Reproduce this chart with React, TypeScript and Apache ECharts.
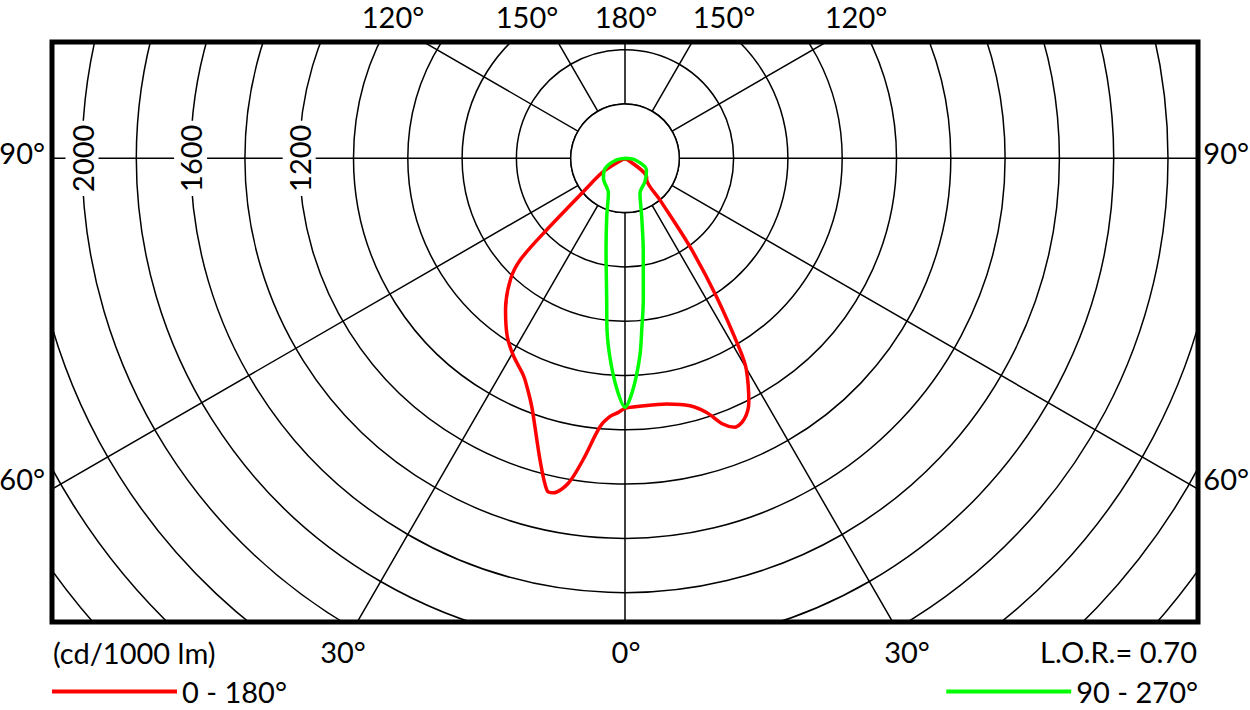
import React, { useEffect, useRef } from "react";
import * as echarts from "echarts";

// ---- axis definitions (cd / 1000 lm) ----
const ringMax = 2800;
const ringStep = 200;
const ringLabelValues = [1200, 1600, 2000];
const angleStep = 30;

// ---- luminous intensity curves: angle from nadir (deg) / value (cd/1000 lm) ----
// plane 0 - 180 : right half (C0) and left half (C180)
const redRightAngles = [0, 3.4, 9.6, 14.7, 17.8, 20.2, 22.2, 24.6, 26.9, 29.9, 31, 33.5, 36.3, 40, 45, 49.7, 180];
const redRightValues = [921, 915, 918, 942, 983, 1043, 1070, 1056, 1008, 896, 820, 609, 403, 200, 113, 104, 0];
const redLeftAngles = [0, 1.5, 3.3, 5.3, 7.9, 9.9, 12.1, 13.2, 15.6, 20.3, 22.4, 25, 29.4, 33.5, 38.3, 43.4, 45.9, 47.4, 51.3, 58.3, 180];
const redLeftValues = [921, 936, 952, 992, 1120, 1215, 1260, 1257, 1160, 985, 933, 884, 836, 786, 710, 614, 536, 407, 196, 94, 0];

// plane 90 - 270 : right half (C90) and left half (C270)
const greenRightAngles = [0, 2, 4.3, 5.6, 7.4, 11.3, 16, 23.2, 40.5, 61.7, 80, 180];
const greenRightValues = [917, 851, 730, 633, 524, 343, 223, 140, 113, 90, 40, 0];
const greenLeftAngles = [0, 2, 4.2, 6, 7.4, 11.7, 17.4, 25.5, 47.3, 63, 78, 180];
const greenLeftValues = [917, 851, 742, 634, 524, 344, 225, 142, 108, 82, 35, 0];

const seriesNames = ["0 - 180°", "90 - 270°"];
const topAngleLabels = ["120°", "150°", "180°", "150°", "120°"];
const sideAngleLabels = ["90°", "60°"];
const bottomAngleLabels = ["30°", "0°", "30°"];
const unitLabel = "(cd/1000 lm)";
const lorLabel = "L.O.R.= 0.70";

const FONT = "Lato";
const FS = 29;

function toAxisAngle(a: number): number {
  // axis: -90 = left, 0 = nadir, 90 = right, 180 = top, 270 = left
  return a < -90 ? a + 360 : a;
}

function buildCurve(lAng: number[], lVal: number[], rAng: number[], rVal: number[]) {
  const pts: number[][] = [];
  for (let i = lAng.length - 1; i >= 0; i--) pts.push([lVal[i], toAxisAngle(-lAng[i])]);
  for (let i = 0; i < rAng.length; i++) pts.push([rVal[i], toAxisAngle(rAng[i])]);
  return pts;
}

const CX = 625;
const CY = 158.3;
const PX_PER_STEP = 54.3;

function txt(text: string, x: number, y: number, align: string) {
  return {
    type: "text",
    x,
    y,
    z: 120,
    style: { text, fontSize: FS, fontFamily: FONT, fill: "#000", align, verticalAlign: "middle" },
  };
}

export default function App() {
  const ref = useRef<HTMLDivElement>(null);
  useEffect(() => {
    document.body.style.margin = "0";
    const chart = echarts.init(ref.current!, null, { renderer: "svg" });
    const steps = ringMax / ringStep;
    const outerR = PX_PER_STEP * steps;
    const innerR = (outerR * ringStep) / ringMax;
    const option: any = {
      animation: false,
      backgroundColor: "#fff",
      textStyle: { fontFamily: FONT },
      polar: {
        center: [CX, CY],
        radius: [0, outerR],
      },
      angleAxis: {
        type: "value",
        min: -90,
        max: 270,
        interval: angleStep,
        startAngle: 180,
        clockwise: false,
        z: 0,
        axisLine: { show: false },
        axisTick: { show: false },
        axisLabel: { show: false },
        splitLine: { show: true, lineStyle: { color: "#000", width: 1.5 } },
      },
      radiusAxis: {
        type: "value",
        min: 0,
        max: ringMax,
        interval: ringStep,
        z: 1,
        axisLine: { show: false },
        axisTick: { show: false },
        splitLine: { show: true, lineStyle: { color: "#000", width: 1.5 } },
        axisLabel: {
          show: true,
          rotate: 90,
          margin: 0,
          align: "center",
          verticalAlign: "middle",
          formatter: (v: number) => (ringLabelValues.indexOf(v) >= 0 ? `{b|${v}}` : ""),
          rich: {
            b: {
              backgroundColor: "#fff",
              padding: [2, 4],
              fontSize: FS,
              fontFamily: FONT,
              color: "#000",
            },
          },
        },
      },
      legend: [
        {
          data: [seriesNames[0]],
          left: 52,
          top: 677,
          padding: 0,
          icon: "rect",
          itemWidth: 125,
          itemHeight: 4,
          selectedMode: false,
          z: 200,
          textStyle: { fontSize: FS, fontFamily: FONT, color: "#000" },
        },
        {
          data: [seriesNames[1]],
          right: 52,
          top: 677,
          padding: 0,
          icon: "rect",
          itemWidth: 125,
          itemHeight: 4,
          selectedMode: false,
          z: 200,
          textStyle: { fontSize: FS, fontFamily: FONT, color: "#000" },
        },
      ],
      series: [
        {
          name: seriesNames[0],
          type: "line",
          coordinateSystem: "polar",
          data: buildCurve(redLeftAngles, redLeftValues, redRightAngles, redRightValues),
          symbol: "none",
          smooth: 0.3,
          clip: false,
          z: 3,
          itemStyle: { color: "#ff0000" },
          lineStyle: { color: "#ff0000", width: 3.5 },
        },
        {
          name: seriesNames[1],
          type: "line",
          coordinateSystem: "polar",
          data: buildCurve(greenLeftAngles, greenLeftValues, greenRightAngles, greenRightValues),
          symbol: "none",
          smooth: 0.3,
          clip: false,
          z: 3,
          itemStyle: { color: "#00ff00" },
          lineStyle: { color: "#00ff00", width: 3.5 },
        },
      ],
      graphic: {
        elements: [
          // inner (200 cd) circle hides the radial lines near the centre
          {
            type: "circle",
            z: 2,
            shape: { cx: CX, cy: CY, r: innerR },
            style: { fill: "#fff", stroke: "#000", lineWidth: 1.5 },
          },
          // white mask outside the frame
          { type: "rect", z: 100, shape: { x: 0, y: 0, width: 1250, height: 42 }, style: { fill: "#fff" } },
          { type: "rect", z: 100, shape: { x: 0, y: 622, width: 1250, height: 88 }, style: { fill: "#fff" } },
          { type: "rect", z: 100, shape: { x: 0, y: 0, width: 52, height: 710 }, style: { fill: "#fff" } },
          { type: "rect", z: 100, shape: { x: 1198, y: 0, width: 52, height: 710 }, style: { fill: "#fff" } },
          // frame
          {
            type: "rect",
            z: 110,
            shape: { x: 52, y: 42, width: 1146, height: 580 },
            style: { fill: "none", stroke: "#000", lineWidth: 5 },
          },
          txt(topAngleLabels[0], 393, 16, "center"),
          txt(topAngleLabels[1], 527, 16, "center"),
          txt(topAngleLabels[2], 626, 16, "center"),
          txt(topAngleLabels[3], 724, 16, "center"),
          txt(topAngleLabels[4], 856, 16, "center"),
          txt(sideAngleLabels[0], 45, 152, "right"),
          txt(sideAngleLabels[0], 1249, 152, "right"),
          txt(sideAngleLabels[1], 45, 478, "right"),
          txt(sideAngleLabels[1], 1249, 478, "right"),
          txt(bottomAngleLabels[0], 343, 651, "center"),
          txt(bottomAngleLabels[1], 626, 651, "center"),
          txt(bottomAngleLabels[2], 907, 651, "center"),
          txt(unitLabel, 53, 652, "left"),
          txt(lorLabel, 1197, 651, "right"),
        ],
      },
    };
    chart.setOption(option);
    return () => chart.dispose();
  }, []);
  return <div ref={ref} style={{ width: 1250, height: 710 }} />;
}
